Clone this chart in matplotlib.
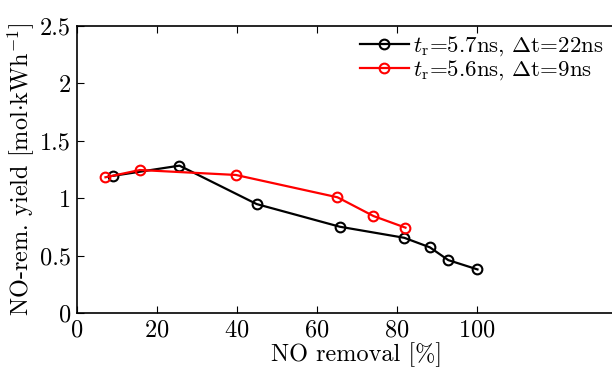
import matplotlib
matplotlib.use("Agg")
import matplotlib.pyplot as plt

# NO removal [%] and yield [mol/kWh]
x_black = [9.2, 25.7, 45.0, 65.8, 81.9, 88.3, 92.9, 100.2]
y_black = [1.196, 1.284, 0.950, 0.753, 0.657, 0.574, 0.463, 0.382]
x_red = [7.2, 15.8, 39.8, 65.2, 74.2, 82.2]
y_red = [1.183, 1.246, 1.203, 1.009, 0.846, 0.745]
lab_black = r"$t_\mathrm{r}$=5.7ns, $\Delta$t=22ns"
lab_red = r"$t_\mathrm{r}$=5.6ns, $\Delta$t=9ns"
xticks = [0, 20, 40, 60, 80, 100]
yticks = [0, 0.5, 1, 1.5, 2, 2.5]
yticklabels = ["0", "0.5", "1", "1.5", "2", "2.5"]

FS = 17.5
plt.rcParams["font.family"] = "cmr10"
plt.rcParams["mathtext.fontset"] = "cm"
plt.rcParams["axes.formatter.use_mathtext"] = True
plt.rcParams["font.size"] = FS

fig = plt.figure(figsize=(6.12, 3.70), dpi=100)
# axes run past the right edge of the figure (the original is cropped)
ax = fig.add_axes([0.1253, 0.153, 0.915, 0.7775])

mk = dict(marker="o", markersize=7, markerfacecolor="none",
          markeredgewidth=1.5, lw=1.6)
ax.plot(x_black, y_black, color="k", label=lab_black, **mk)
ax.plot(x_red, y_red, color="#ff0000", label=lab_red, **mk)

ax.set_xlim(0, 140)
ax.set_ylim(0, 2.5)
ax.set_xticks(xticks)
ax.set_yticks(yticks)
ax.set_yticklabels(yticklabels)
ax.tick_params(direction="in", top=True, right=False, length=5, width=0.8,
               labelsize=FS, pad=4)
ax.spines["right"].set_visible(False)
for s in ["left", "bottom", "top"]:
    ax.spines[s].set_linewidth(1.2)

ax.set_xlabel("NO removal [%]", fontsize=FS, labelpad=1)
ax.set_ylabel(r"NO-rem. yield [mol$\cdot$kWh$^{-1}$]", fontsize=FS, labelpad=2)

leg = ax.legend(loc="upper left", bbox_to_anchor=(0.478, 1.025), frameon=False,
                fontsize=16.5, handlelength=2.1, handletextpad=0.2,
                labelspacing=0.0, borderpad=0.2)

fig.savefig("out.png", dpi=100)
